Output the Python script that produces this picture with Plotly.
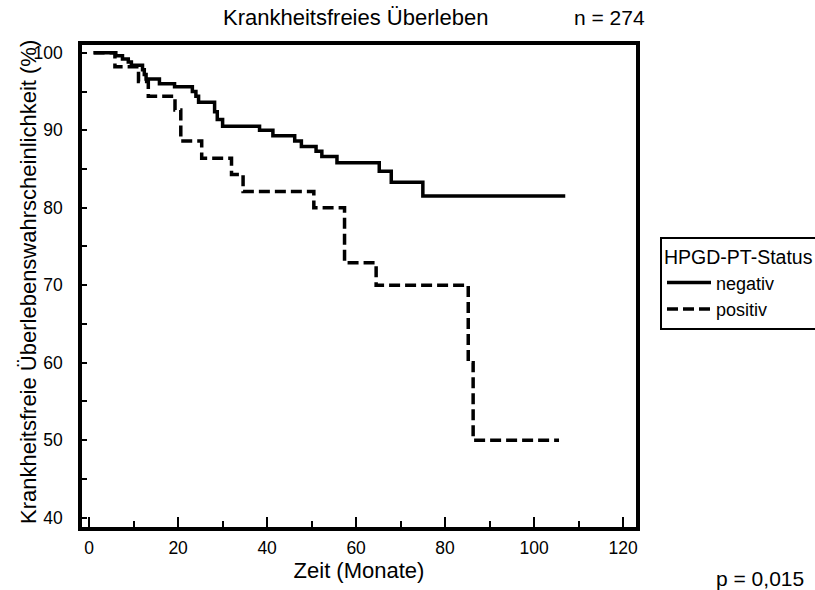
import plotly.graph_objects as go

# Kaplan-Meier step data
neg_time = [1, 6.0, 7.5, 8.8, 9.5, 12.0, 12.4, 12.8, 15.8, 19.2, 23.2, 24.0, 24.6,
            28.2, 28.8, 30.0, 38.3, 41.3, 46.2, 47.7, 51.0, 52.3, 55.7, 65.2, 67.9,
            75.0, 107.0]
neg_surv = [100, 99.6, 99.2, 98.8, 98.4, 97.8, 97.2, 96.6, 96.0, 95.6, 95.0, 94.4, 93.6,
            92.4, 91.4, 90.5, 90.0, 89.3, 88.6, 87.9, 87.3, 86.6, 85.8, 84.7, 83.3,
            81.5, 81.5]
pos_time = [1, 5.8, 11.1, 13.3, 19.3, 20.6, 25.3, 32.0, 34.6, 50.5, 57.4, 64.5, 85.2,
            86.3, 105.6]
pos_surv = [100, 98.2, 96.3, 94.4, 92.6, 88.6, 86.4, 84.3, 82.1, 80.0, 72.9, 70.0, 60.0,
            50.0, 50.0]

series_names = ["negativ", "positiv"]
legend_title = "HPGD-PT-Status"
chart_title = "Krankheitsfreies Überleben"
n_text = "n = 274"
p_text = "p = 0,015"
x_title = "Zeit (Monate)"
y_title = "Krankheitsfreie Überlebenswahrscheinlichkeit (%)"

FONT = "Liberation Sans, Arial, sans-serif"

W, H = 815, 590
L, R, T, B = 82, 179, 45, 63
pw, ph = W - L - R, H - T - B


def px(x):
    return (x - L) / pw


def py(y):
    return (H - B - y) / ph


fig = go.Figure()
fig.add_trace(go.Scatter(x=neg_time, y=neg_surv, mode="lines", name=series_names[0],
                         line=dict(color="black", width=3.5, shape="hv")))
fig.add_trace(go.Scatter(x=pos_time, y=pos_surv, mode="lines", name=series_names[1],
                         line=dict(color="black", width=3.5, shape="hv", dash="11px,5px")))

fig.update_layout(
    width=W, height=H,
    margin=dict(l=L, r=R, t=T, b=B, autoexpand=False),
    paper_bgcolor="white", plot_bgcolor="white",
    font=dict(family=FONT, color="black", size=17),
    showlegend=True,
    legend=dict(
        x=px(660), y=py(237), xanchor="left", yanchor="top",
        bordercolor="black", borderwidth=2, bgcolor="white",
        font=dict(family=FONT, size=18, color="black"),
        title=dict(text=legend_title, font=dict(family=FONT, size=19.5)),
        tracegroupgap=0, itemwidth=44,
    ),
    xaxis=dict(
        range=[-1.6, 122.9], tickmode="array", tickvals=[0, 20, 40, 60, 80, 100, 120],
        ticks="inside", ticklen=10, tickwidth=2, tickcolor="black",
        minor=dict(ticks="inside", ticklen=6, tickwidth=2, tickcolor="black",
                   tickvals=[10, 30, 50, 70, 90, 110]),
        showline=True, linewidth=3.5, linecolor="black", mirror=True,
        showgrid=False, zeroline=False, ticklabelstandoff=2,
        tickfont=dict(size=17.5),
        title=dict(text=x_title, font=dict(size=22), standoff=6),
    ),
    yaxis=dict(
        range=[38.8, 101.0], tickmode="array", tickvals=[40, 50, 60, 70, 80, 90, 100],
        ticks="inside", ticklen=5, tickwidth=2, tickcolor="black",
        minor=dict(ticks="inside", ticklen=5, tickwidth=2, tickcolor="black",
                   tickvals=[45, 55, 65, 75, 85, 95]),
        showline=True, linewidth=3.5, linecolor="black", mirror=True,
        showgrid=False, zeroline=False, ticklabelstandoff=12,
        tickfont=dict(size=17.5),
    ),
    annotations=[
        dict(text=y_title, x=px(28), y=py(282), xref="paper", yref="paper",
             xanchor="center", yanchor="middle", textangle=-90, showarrow=False,
             font=dict(size=22)),
        dict(text=chart_title, x=px(355), y=py(18), xref="paper", yref="paper",
             xanchor="center", yanchor="middle", showarrow=False, font=dict(size=22)),
        dict(text=n_text, x=px(609), y=py(18), xref="paper", yref="paper",
             xanchor="center", yanchor="middle", showarrow=False, font=dict(size=21)),
        dict(text=p_text, x=px(760), y=py(578), xref="paper", yref="paper",
             xanchor="center", yanchor="middle", showarrow=False, font=dict(size=21)),
    ],
)

fig.write_html("out.html")
